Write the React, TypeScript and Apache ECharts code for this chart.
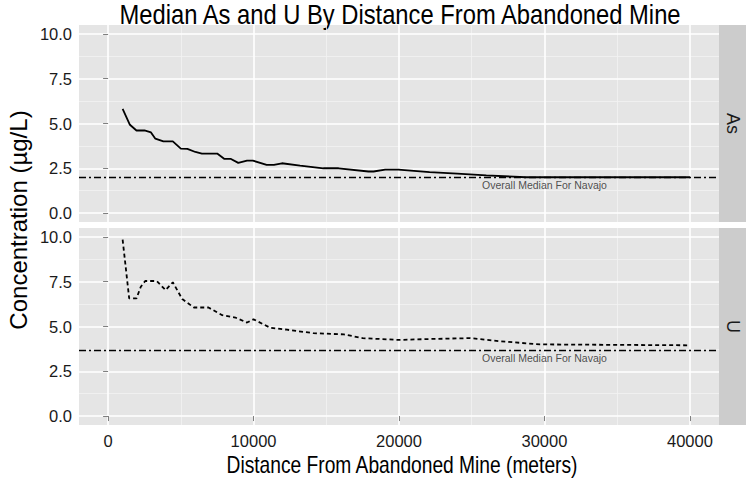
import React, { useEffect, useRef } from "react";
import * as echarts from "echarts";

// ---- data ----
const asDistance = [1000, 1500, 1950, 2500, 2950, 3250, 3800, 4450, 5000, 5450, 6000, 6450, 7500, 8000, 8450, 8950, 9550, 9950, 10900, 11400, 11950, 13200, 14800, 15850, 17900, 18250, 19050, 19950, 22100, 24000, 26000, 28700, 40000];
const asConc = [5.82, 4.93, 4.61, 4.61, 4.5, 4.15, 4.0, 4.0, 3.6, 3.58, 3.41, 3.32, 3.32, 3.02, 3.02, 2.8, 2.93, 2.93, 2.69, 2.69, 2.78, 2.65, 2.5, 2.5, 2.32, 2.32, 2.43, 2.43, 2.28, 2.2, 2.1, 2.0, 2.0];

const uDistance = [1000, 1450, 1950, 2250, 2550, 3350, 3950, 4450, 5100, 5900, 6900, 7850, 8750, 9550, 10000, 11150, 12300, 14100, 16200, 17500, 20000, 22000, 24900, 26900, 29700, 40000];
const uConc = [9.85, 6.57, 6.57, 7.22, 7.54, 7.54, 7.03, 7.47, 6.53, 6.06, 6.06, 5.63, 5.5, 5.22, 5.4, 4.93, 4.82, 4.63, 4.56, 4.35, 4.25, 4.3, 4.35, 4.18, 4.0, 3.95];

const panelNames = ["As", "U"];
const overallMedian = [2.0, 3.7];
const medianLabel = "Overall Median For Navajo";
const medianLabelX = 30000;

const xTickValues = [0, 10000, 20000, 30000, 40000];
const xMinorValues = [5000, 15000, 25000, 35000];
const yTickValues = [0, 2.5, 5, 7.5, 10];
const yMinorValues = [1.25, 3.75, 6.25, 8.75];

const titleText = "Median As and U By Distance From Abandoned Mine";
const xTitle = "Distance From Abandoned Mine (meters)";
const yTitle = "Concentration (\u00b5g/L)";

const FONT = "'Liberation Sans', Arial, Helvetica, sans-serif";

const X_MIN = -2000;
const X_MAX = 42000;
const Y_MIN = -0.5;
const Y_MAX = 10.5;

const PANEL_LEFT = 79;
const PANEL_WIDTH = 640;
const PANEL_HEIGHT = 197;
const PANEL_TOPS = [25, 228];
const STRIP_WIDTH = 27;

export default function App() {
  const ref = useRef<HTMLDivElement>(null);

  useEffect(() => {
    if (!ref.current) return;
    const chart = echarts.init(ref.current, undefined, { renderer: "svg" });

    const grids = PANEL_TOPS.map((top) => ({
      left: PANEL_LEFT,
      top,
      width: PANEL_WIDTH,
      height: PANEL_HEIGHT,
      show: true,
      backgroundColor: "#E5E5E5",
      borderWidth: 0,
      outerBoundsMode: "none",
    }));

    const majorX = [0, 1].map((g) => ({
      type: "value",
      gridIndex: g,
      min: X_MIN,
      max: X_MAX,
      z: 2,
      axisLine: { show: false },
      axisTick: {
        show: g === 1,
        customValues: xTickValues,
        length: 5,
        lineStyle: { color: "#7F7F7F", width: 1 },
      },
      axisLabel: {
        show: g === 1,
        customValues: xTickValues,
        margin: 7,
        fontSize: 16.5,
        color: "#1a1a1a",
        fontFamily: FONT,
        formatter: (v: number) => String(v),
      },
      splitLine: { show: true, lineStyle: { color: "#FFFFFF", width: 1.6 } },
    }));

    const minorX = [0, 1].map((g) => ({
      type: "value",
      gridIndex: g,
      min: X_MIN,
      max: X_MAX,
      z: 1,
      axisLine: { show: false },
      axisTick: { show: false, customValues: xMinorValues },
      axisLabel: { show: false, customValues: xMinorValues },
      splitLine: { show: true, lineStyle: { color: "#F2F2F2", width: 0.8 } },
    }));

    const majorY = [0, 1].map((g) => ({
      type: "value",
      gridIndex: g,
      position: "left",
      min: Y_MIN,
      max: Y_MAX,
      z: 2,
      axisLine: { show: false },
      axisTick: {
        show: true,
        customValues: yTickValues,
        length: 5,
        lineStyle: { color: "#7F7F7F", width: 1 },
      },
      axisLabel: {
        show: true,
        customValues: yTickValues,
        margin: 7,
        fontSize: 16.5,
        color: "#1a1a1a",
        fontFamily: FONT,
        formatter: (v: number) => v.toFixed(1),
      },
      splitLine: { show: true, lineStyle: { color: "#FFFFFF", width: 1.6 } },
    }));

    const minorY = [0, 1].map((g) => ({
      type: "value",
      gridIndex: g,
      position: "left",
      min: Y_MIN,
      max: Y_MAX,
      z: 1,
      axisLine: { show: false },
      axisTick: { show: false, customValues: yMinorValues },
      axisLabel: { show: false, customValues: yMinorValues },
      splitLine: { show: true, lineStyle: { color: "#F2F2F2", width: 0.8 } },
    }));

    const lineData = [
      asDistance.map((d, i) => [d, asConc[i]]),
      uDistance.map((d, i) => [d, uConc[i]]),
    ];
    const lineTypes: any[] = ["solid", [4, 3]];

    const series: any[] = [];
    [0, 1].forEach((g) => {
      series.push({
        name: panelNames[g],
        type: "line",
        xAxisIndex: g,
        yAxisIndex: g,
        data: lineData[g],
        symbol: "none",
        z: 4,
        lineStyle: { color: "#000000", width: 1.8, type: lineTypes[g] },
        markLine: {
          silent: true,
          symbol: "none",
          label: { show: false },
          lineStyle: { color: "#000000", width: 1.4, type: [7, 3, 2, 3] },
          data: [{ yAxis: overallMedian[g] }],
        },
      });
      series.push({
        name: panelNames[g] + " label",
        type: "scatter",
        xAxisIndex: g,
        yAxisIndex: g,
        z: 4,
        symbolSize: 1,
        itemStyle: { color: "rgba(0,0,0,0)" },
        silent: true,
        data: [[medianLabelX, overallMedian[g] - 0.46]],
        label: {
          show: true,
          position: "inside",
          formatter: medianLabel,
          fontSize: 10.5,
          color: "#262626",
          fontFamily: FONT,
        },
      });
    });

    const graphic: any[] = [
      {
        type: "text",
        x: 400,
        y: 14,
        scaleX: 0.88,
        style: {
          text: titleText,
          fontSize: 27,
          fontFamily: FONT,
          fill: "#000000",
          align: "center",
          verticalAlign: "middle",
          textAlign: "center",
          textVerticalAlign: "middle",
        },
      },
      {
        type: "text",
        x: 402,
        y: 465,
        scaleX: 0.8,
        style: {
          text: xTitle,
          fontSize: 24,
          fontFamily: FONT,
          fill: "#000000",
          align: "center",
          verticalAlign: "middle",
          textAlign: "center",
          textVerticalAlign: "middle",
        },
      },
      {
        type: "text",
        x: 18,
        y: 220,
        rotation: Math.PI / 2,
        style: {
          text: yTitle,
          fontSize: 24,
          fontFamily: FONT,
          fill: "#000000",
          align: "center",
          verticalAlign: "middle",
          textAlign: "center",
          textVerticalAlign: "middle",
        },
      },
    ];
    PANEL_TOPS.forEach((top, i) => {
      graphic.push({
        type: "rect",
        shape: { x: PANEL_LEFT + PANEL_WIDTH, y: top, width: STRIP_WIDTH, height: PANEL_HEIGHT },
        style: { fill: "#CCCCCC" },
      });
      graphic.push({
        type: "text",
        x: PANEL_LEFT + PANEL_WIDTH + STRIP_WIDTH / 2,
        y: top + PANEL_HEIGHT / 2,
        rotation: -Math.PI / 2,
        style: {
          text: panelNames[i],
          fontSize: 18,
          fontFamily: FONT,
          fill: "#1a1a1a",
          align: "center",
          verticalAlign: "middle",
          textAlign: "center",
          textVerticalAlign: "middle",
        },
      });
    });

    chart.setOption({
      animation: false,
      backgroundColor: "#FFFFFF",
      textStyle: { fontFamily: FONT },
      grid: grids,
      xAxis: [...majorX, ...minorX],
      yAxis: [...majorY, ...minorY],
      series,
      graphic,
    } as any);

    return () => chart.dispose();
  }, []);

  return (
    <div
      ref={ref}
      style={{ position: "fixed", left: 0, top: 0, width: 746, height: 480 }}
    />
  );
}
